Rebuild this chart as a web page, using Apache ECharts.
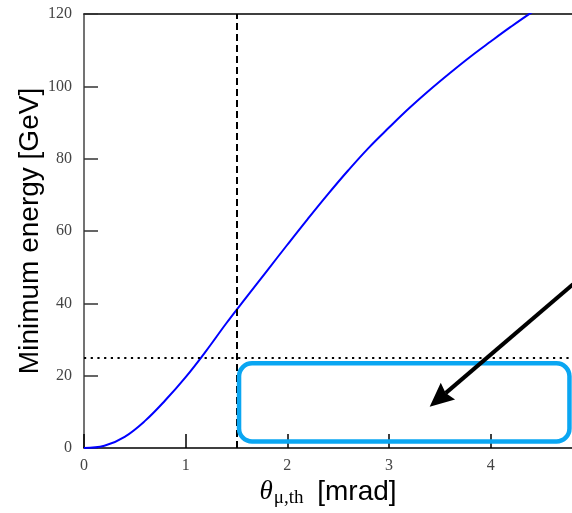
<!DOCTYPE html>
<html>
<head>
<meta charset="utf-8">
<script src="https://cdn.jsdelivr.net/npm/echarts@6/dist/echarts.min.js"></script>
<style>
  html, body { margin: 0; padding: 0; background: #fff; }
  #chart { width: 572px; height: 513px; }
</style>
</head>
<body>
<div id="chart"></div>
<script>
// threshold angle [mrad] and the minimum energy [GeV]
var theta = [0, 0.2, 0.4, 0.6, 0.8, 1.0, 1.2, 1.4, 1.6, 1.8, 2.0, 2.2, 2.4,
             2.6, 2.8, 3.0, 3.2, 3.4, 3.6, 3.8, 4.0, 4.2, 4.4, 4.6];
var minEnergy = [0, 0.6, 3.1, 7.5, 13.2, 19.6, 26.8, 34.5, 41.8, 49.0, 56.2, 63.3, 70.2,
                 76.8, 83.0, 88.6, 94.0, 99.0, 103.7, 108.2, 112.4, 116.5, 120.4, 124.0];
var xTicks = [0, 1, 2, 3, 4];
var yTicks = [0, 20, 40, 60, 80, 100, 120];

// cut lines
var thetaCut = 1.5;
var energyCut = 25;

// annotation: box corners and arrow ends, in data units
var boxCorners = [[1.525, 23.4], [4.775, 1.8]];
var arrowFrom = [4.81, 45.3];
var arrowTo = [3.40, 11.4];

var chart = echarts.init(document.getElementById('chart'));

var serif = 'Liberation Serif';
var sans = 'Liberation Sans';

var option = {
  animation: false,
  grid: { left: 84, right: 0, top: 14, bottom: 65, outerBoundsMode: 'none', containLabel: false },
  xAxis: [
    {
      type: 'value',
      min: 0,
      max: 4.8,
      interval: 1,
      name: '{t|θ}{s|μ,th}{u| [mrad]}',
      nameLocation: 'middle',
      nameGap: 29,
      nameMoveOverlap: false,
      nameTextStyle: {
        rich: {
          t: { fontFamily: serif, fontStyle: 'italic', fontSize: 27, color: '#000', lineHeight: 30 },
          s: { fontFamily: serif, fontSize: 19, color: '#000', padding: [12, 6, 0, 1], lineHeight: 30 },
          u: { fontFamily: sans, fontSize: 28, color: '#000', lineHeight: 30 }
        }
      },
      axisLine: { show: true, lineStyle: { color: '#000', width: 1.5 } },
      axisTick: { show: true, inside: true, length: 14, customValues: xTicks, lineStyle: { color: '#000', width: 1.5 } },
      axisLabel: { customValues: xTicks, margin: 10, fontFamily: serif, fontSize: 16, color: '#444' },
      splitLine: { show: false }
    },
    {
      type: 'value',
      position: 'top',
      min: 0,
      max: 4.8,
      axisLine: { show: true, lineStyle: { color: '#000', width: 1.5 } },
      axisTick: { show: false },
      axisLabel: { show: false },
      splitLine: { show: false }
    }
  ],
  yAxis: {
    type: 'value',
    min: 0,
    max: 120,
    interval: 20,
    name: 'Minimum energy [GeV]',
    nameLocation: 'middle',
    nameGap: 40,
    nameMoveOverlap: false,
    nameTextStyle: { fontFamily: sans, fontSize: 28, color: '#000' },
    axisLine: { show: true, lineStyle: { color: '#444', width: 1.5 } },
    axisTick: { show: true, inside: true, length: 14, customValues: yTicks, lineStyle: { color: '#333', width: 1.5 } },
    axisLabel: { customValues: yTicks, margin: 12, fontFamily: serif, fontSize: 16, color: '#444' },
    splitLine: { show: false }
  },
  series: [
    {
      type: 'line',
      data: theta.map(function (t, i) { return [t, minEnergy[i]]; }),
      smooth: 0.4,
      showSymbol: false,
      lineStyle: { color: '#0000ff', width: 2 },
      clip: true,
      markLine: {
        silent: true,
        symbol: ['none', 'none'],
        label: { show: false },
        data: [
          { xAxis: thetaCut, lineStyle: { color: '#000', width: 2, type: [7, 4] } },
          { yAxis: energyCut, lineStyle: { color: '#000', width: 2, type: [2.2, 4.5] } }
        ]
      }
    }
  ]
};

chart.setOption(option);

// annotation drawn on top, placed through the grid's coordinate system
var b0 = chart.convertToPixel({ gridIndex: 0 }, boxCorners[0]);
var b1 = chart.convertToPixel({ gridIndex: 0 }, boxCorners[1]);
var a0 = chart.convertToPixel({ gridIndex: 0 }, arrowFrom);
var a1 = chart.convertToPixel({ gridIndex: 0 }, arrowTo);

var dx = a1[0] - a0[0], dy = a1[1] - a0[1];
var len = Math.sqrt(dx * dx + dy * dy);
var ux = dx / len, uy = dy / len;
var nx = -uy, ny = ux;
var headLen = 24, headHalf = 11, notch = 3;
var back = [a1[0] - ux * headLen, a1[1] - uy * headLen];
var neck = [a1[0] - ux * (headLen - notch), a1[1] - uy * (headLen - notch)];

chart.setOption({
  graphic: [
    {
      type: 'rect',
      z: 100,
      shape: {
        x: b0[0], y: b0[1],
        width: b1[0] - b0[0], height: b1[1] - b0[1],
        r: 13
      },
      style: { fill: 'none', stroke: '#0aa6f2', lineWidth: 4.5 }
    },
    {
      type: 'line',
      z: 101,
      shape: { x1: a0[0], y1: a0[1], x2: neck[0], y2: neck[1] },
      style: { stroke: '#000', lineWidth: 4 }
    },
    {
      type: 'polygon',
      z: 101,
      shape: {
        points: [
          a1,
          [back[0] + nx * headHalf, back[1] + ny * headHalf],
          neck,
          [back[0] - nx * headHalf, back[1] - ny * headHalf]
        ]
      },
      style: { fill: '#000' }
    }
  ]
});
</script>
</body>
</html>
